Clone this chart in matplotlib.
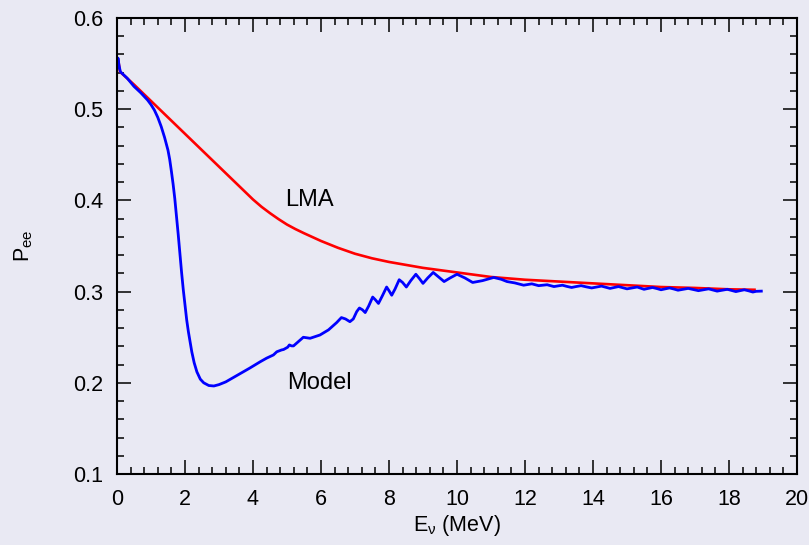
import matplotlib
matplotlib.use("Agg")
import matplotlib.pyplot as plt
from matplotlib.ticker import MultipleLocator

# LMA curve (red)
lma_e = [0.0, 0.04, 0.09, 0.5, 1.0, 1.5, 2.0, 2.5, 3.0, 3.5, 3.75, 4.0, 4.25,
         4.5, 4.75, 5.0, 5.25, 5.5, 6.0, 6.5, 7.0, 7.5, 8.0, 9.0, 10.0, 11.0,
         12.0, 13.0, 14.0, 15.0, 16.0, 17.0, 18.0, 18.75]
lma_p = [0.550, 0.553, 0.541, 0.527, 0.509, 0.491, 0.473, 0.455, 0.437, 0.419,
         0.410, 0.401, 0.393, 0.386, 0.3795, 0.3735, 0.3685, 0.364, 0.3555,
         0.348, 0.3415, 0.3365, 0.3325, 0.326, 0.321, 0.316, 0.313, 0.311,
         0.309, 0.307, 0.305, 0.304, 0.3025, 0.302]

# Model curve (blue)
model_e = [0.0, 0.03, 0.06, 0.1, 0.3, 0.5, 0.7, 0.9, 1.0, 1.1, 1.2, 1.3, 1.4,
           1.5, 1.55, 1.6, 1.65, 1.7, 1.75, 1.8, 1.85, 1.9, 1.95, 2.0, 2.05,
           2.1, 2.15, 2.2, 2.27, 2.35, 2.45, 2.55, 2.7, 2.85, 3.0, 3.2, 3.62,
           3.9, 4.21, 4.4, 4.6, 4.7, 4.84, 4.9, 4.97, 5.02, 5.07, 5.13, 5.19,
           5.33, 5.48, 5.6, 5.68, 5.97, 6.22, 6.46, 6.6, 6.72, 6.85, 6.95,
           7.05, 7.13, 7.22, 7.3, 7.4, 7.52, 7.6, 7.69, 7.8, 7.93, 8.0, 8.08,
           8.18, 8.3, 8.4, 8.51, 8.64, 8.79, 8.9, 9.0, 9.14, 9.3, 9.46, 9.62,
           9.8, 10.0, 10.23, 10.46, 10.75, 11.08, 11.3, 11.47, 11.7, 11.96,
           12.08, 12.2, 12.3, 12.4, 12.52, 12.65, 12.75, 12.85, 12.97, 13.1,
           13.22, 13.37, 13.5, 13.65, 13.8, 13.96, 14.1, 14.25, 14.37, 14.5,
           14.62, 14.75, 14.88, 15.0, 15.15, 15.3, 15.4, 15.5, 15.62, 15.75,
           15.88, 16.0, 16.12, 16.25, 16.38, 16.5, 16.65, 16.8, 16.95, 17.1,
           17.25, 17.4, 17.52, 17.65, 17.8, 17.95, 18.08, 18.2, 18.33, 18.45,
           18.58, 18.7, 18.8, 18.95]
model_p = [0.545, 0.556, 0.548, 0.541, 0.534, 0.525, 0.518, 0.510, 0.505,
           0.499, 0.491, 0.481, 0.469, 0.455, 0.445, 0.432, 0.418, 0.402,
           0.383, 0.363, 0.342, 0.321, 0.302, 0.285, 0.269, 0.256, 0.245,
           0.234, 0.222, 0.212, 0.204, 0.200, 0.197, 0.1965, 0.198, 0.201,
           0.210, 0.216, 0.223, 0.227, 0.2305, 0.234, 0.236, 0.2365, 0.238,
           0.239, 0.2415, 0.2405, 0.2404, 0.245, 0.2499, 0.2492, 0.2488,
           0.2524, 0.258, 0.266, 0.2715, 0.270, 0.267, 0.270, 0.278, 0.282,
           0.280, 0.277, 0.284, 0.294, 0.291, 0.287, 0.295, 0.305, 0.301,
           0.296, 0.303, 0.313, 0.310, 0.305, 0.312, 0.319, 0.314, 0.309,
           0.315, 0.321, 0.316, 0.311, 0.315, 0.319, 0.315, 0.310, 0.312,
           0.3155, 0.3135, 0.311, 0.3095, 0.307, 0.3078, 0.3085, 0.3075,
           0.3065, 0.307, 0.3075, 0.3065, 0.3055, 0.3062, 0.307, 0.3058,
           0.3045, 0.3055, 0.3065, 0.3052, 0.304, 0.305, 0.306, 0.3048,
           0.3035, 0.3045, 0.3055, 0.3042, 0.303, 0.304, 0.305, 0.3038,
           0.3025, 0.3035, 0.3045, 0.3033, 0.302, 0.303, 0.304, 0.3028,
           0.3015, 0.3025, 0.3035, 0.3022, 0.301, 0.302, 0.303, 0.3018,
           0.3005, 0.3015, 0.3025, 0.3012, 0.300, 0.301, 0.302, 0.3008,
           0.2995, 0.3003, 0.3005]

bg = "#e9e9f3"
plt.rcParams["font.family"] = ["Liberation Sans", "DejaVu Sans"]
plt.rcParams["mathtext.fontset"] = "custom"
plt.rcParams["mathtext.rm"] = "Liberation Sans"
plt.rcParams["mathtext.it"] = "Liberation Sans"

fig = plt.figure(figsize=(8.09, 5.45), dpi=100, facecolor=bg)
ax = fig.add_axes([0.1446, 0.1303, 0.8406, 0.8367], facecolor=bg)

ax.plot(lma_e, lma_p, color="#ff0000", lw=1.9)
ax.plot(model_e, model_p, color="#0000ff", lw=2.0)

ax.text(4.95, 0.40, "LMA", fontsize=17, va="center", ha="left")
ax.text(5.0, 0.20, "Model", fontsize=17, va="center", ha="left")

ax.set_xlim(0, 20)
ax.set_ylim(0.1, 0.6)
ax.xaxis.set_major_locator(MultipleLocator(2))
ax.xaxis.set_minor_locator(MultipleLocator(0.4))
ax.yaxis.set_major_locator(MultipleLocator(0.1))
ax.yaxis.set_minor_locator(MultipleLocator(0.02))
ax.tick_params(which="both", direction="in", top=True, right=True, width=1.1,
               labelsize=15.5)
ax.tick_params(which="major", length=10)
ax.tick_params(which="minor", length=5)
ax.tick_params(axis="x", which="major", pad=11)
ax.tick_params(axis="y", which="major", pad=10)
for s in ax.spines.values():
    s.set_linewidth(1.5)

ax.set_xlabel(r"E$_{\nu}$ (MeV)", fontsize=15.5, labelpad=2)
ax.set_ylabel(r"P$_{ee}$", fontsize=15.5, labelpad=27)

fig.savefig("out.png", dpi=100, facecolor=bg)
